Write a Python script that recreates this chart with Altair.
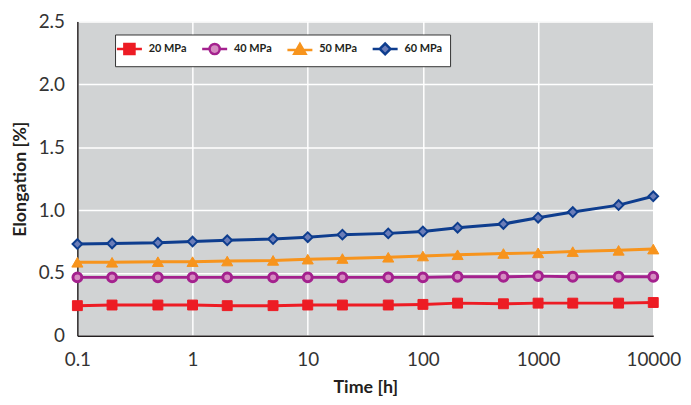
import altair as alt
import pandas as pd

times = [0.1, 0.2, 0.5, 1, 2, 5, 10, 20, 50, 100, 200, 500, 1000, 2000, 5000, 10000]
series_names = ["20 MPa", "40 MPa", "50 MPa", "60 MPa"]
mpa20 = [0.24, 0.245, 0.245, 0.245, 0.24, 0.24, 0.245, 0.245, 0.245, 0.25, 0.26, 0.255, 0.26, 0.26, 0.26, 0.265]
mpa40 = [0.465, 0.465, 0.465, 0.465, 0.465, 0.465, 0.465, 0.465, 0.465, 0.465, 0.47, 0.47, 0.475, 0.47, 0.47, 0.47]
mpa50 = [0.585, 0.585, 0.59, 0.59, 0.595, 0.6, 0.61, 0.615, 0.625, 0.635, 0.645, 0.655, 0.66, 0.67, 0.68, 0.69]
mpa60 = [0.73, 0.735, 0.74, 0.75, 0.76, 0.77, 0.785, 0.805, 0.815, 0.83, 0.86, 0.89, 0.94, 0.985, 1.04, 1.11]

line_colors = ["#ed1c24", "#a4218e", "#f7941d", "#0e3d8e"]
fill_colors = ["#ed1c24", "#d58cc1", "#f7941d", "#6b7db8"]
point_shapes = ["square", "circle", "triangle-up", "diamond"]
point_sizes = [100, 80, 125, 95]
point_strokes = [1, 3, 1, 2]
# legend symbols: short line with the marker on it (unit box scaled by sqrt(size)/2)
legend_paths = [
    "M-2.1,0H-0.85M0.85,0H2.1M-0.85,-0.85H0.85V0.85H-0.85Z",
    "M-2.1,0H-0.85M0.85,0H2.1M-0.85,0A0.85,0.85,0,1,1,0.85,0A0.85,0.85,0,1,1,-0.85,0Z",
    "M-2.1,0.1H2.1M-0.95,0.75L0,-0.9L0.95,0.75Z",
    "M-2.1,0H-0.9M0.9,0H2.1M-0.9,0L0,-0.9L0.9,0L0,0.9Z",
]

rows = []
for name, vals in zip(series_names, [mpa20, mpa40, mpa50, mpa60]):
    for t, v in zip(times, vals):
        rows.append({"time": t, "value": v, "series": name})
df = pd.DataFrame(rows)

FONT = "Lato"

x_enc = alt.X(
    "time:Q",
    scale=alt.Scale(type="log", domain=[0.1, 10000], nice=False),
    axis=alt.Axis(
        title="Time [h]",
        values=[0.1, 1, 10, 100, 1000, 10000],
        labelExpr="datum.value < 1 ? '0.1' : format(datum.value, 'd')",
        ticks=False,
        labelFlush=False,
        labelPadding=15,
        titlePadding=9,
    ),
)
y_enc = alt.Y(
    "value:Q",
    scale=alt.Scale(domain=[0, 2.5], nice=False),
    axis=alt.Axis(
        title="Elongation [%]",
        values=[0, 0.5, 1.0, 1.5, 2.0, 2.5],
        labelExpr="datum.value == 0 ? '0' : format(datum.value, '.1f')",
        ticks=False,
        labelFlush=False,
        labelPadding=13,
        titlePadding=9,
    ),
)

stroke_scale = alt.Scale(domain=series_names, range=line_colors)
fill_scale = alt.Scale(domain=series_names, range=fill_colors)
shape_scale = alt.Scale(domain=series_names, range=legend_paths)

legend_spec = alt.Legend(
    orient="none", legendX=38, legendY=13, direction="horizontal", columns=4,
    title=None, fillColor="white", strokeColor="#333333", padding=7,
    symbolSize=144, symbolStrokeWidth=2.5, symbolOpacity=1,
    labelFont=FONT, labelFontWeight="bold", labelFontSize=11, labelColor="#231f20",
    labelOffset=12, columnPadding=9,
)

legend_layer = alt.Chart(df).mark_point(opacity=0, filled=True, strokeWidth=2.5).encode(
    x=x_enc,
    y=y_enc,
    fill=alt.Fill("series:N", scale=fill_scale, legend=legend_spec),
    stroke=alt.Stroke("series:N", scale=stroke_scale, legend=legend_spec),
    shape=alt.Shape("series:N", scale=shape_scale, legend=legend_spec),
)

lines = alt.Chart(df).mark_line(strokeWidth=3).encode(
    x=x_enc,
    y=y_enc,
    stroke=alt.Stroke("series:N", scale=stroke_scale),
    order="time:Q",
)

point_layers = []
for name, shp, sz, sw in zip(series_names, point_shapes, point_sizes, point_strokes):
    point_layers.append(
        alt.Chart(df).transform_filter(alt.datum.series == name).mark_point(
            shape=shp, size=sz, strokeWidth=sw, opacity=1, filled=False
        ).encode(
            x=x_enc,
            y=y_enc,
            fill=alt.Fill("series:N", scale=fill_scale),
            stroke=alt.Stroke("series:N", scale=stroke_scale),
        )
    )

chart = alt.layer(legend_layer, lines, *point_layers).properties(
    width=581,
    height=317,
    autosize=alt.AutoSizeParams(type="none"),
    padding={"left": 70, "top": 12, "right": 30, "bottom": 60},
).configure_view(
    fill="#d1d3d4", stroke=None
).configure_axis(
    grid=True,
    gridColor="white",
    gridWidth=1.5,
    domainColor="#231f20",
    domainWidth=1.5,
    labelFont=FONT,
    labelFontSize=19,
    labelColor="#333333",
    titleFont=FONT,
    titleFontSize=18,
    titleFontWeight="bold",
    titleColor="#231f20",
)

chart.save("out.html", embed_options={"renderer": "svg", "actions": False})
